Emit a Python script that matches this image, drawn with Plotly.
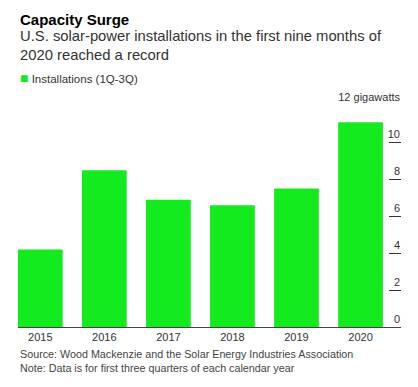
import plotly.graph_objects as go

years = ["2015", "2016", "2017", "2018", "2019", "2020"]
installations = [4.2, 8.5, 6.9, 6.6, 7.5, 11.1]
y_tickvals = [0, 2, 4, 6, 8, 10, 12]
y_ticktext = ["0", "2", "4", "6", "8", "10", "12 gigawatts"]

GREEN = "#14eb1f"
FONT = "Liberation Sans, Arial, sans-serif"
# page has an 8px body margin, so the figure is sized/offset to compensate
OFF = 8
W, H = 418 - OFF, 387 - OFF
ML, MR, MT, MB = 18 - OFF, 17, 105 - OFF, 60
plot_h = H - MT - MB


def py(page_y):
    return (H - MB + OFF - page_y) / plot_h


fig = go.Figure()
fig.add_trace(go.Bar(
    x=years, y=installations, marker=dict(color=GREEN, line=dict(width=0)),
    name="Installations (1Q-3Q)", showlegend=False, hoverinfo="x+y",
))

fig.update_layout(
    width=W, height=H,
    margin=dict(l=ML, r=MR, t=MT, b=MB, pad=0),
    paper_bgcolor="white", plot_bgcolor="white",
    font=dict(family=FONT, color="#333333", size=11),
    bargap=0.302,
    xaxis=dict(
        type="category", range=[-0.348, 5.632], showgrid=False, zeroline=False,
        showline=True, linecolor="#444444", linewidth=1, ticks="",
        tickfont=dict(size=11, color="#333333"),
    ),
    yaxis=dict(
        range=[0, 12.03], side="right", showgrid=False, zeroline=False, showline=False,
        tickvals=y_tickvals, ticktext=y_ticktext,
        ticks="inside", ticklen=12, tickcolor="#333333", tickwidth=1.2,
        ticklabelposition="inside top", ticklabeloverflow="allow",
        ticklabelstandoff=-2,
        tickfont=dict(size=11, color="#333333"),
    ),
    annotations=[
        dict(text="<b>Capacity Surge</b>", xref="paper", yref="paper", x=0, y=py(19.5),
             xanchor="left", yanchor="middle", showarrow=False,
             font=dict(size=15, color="#000000", family=FONT)),
        dict(text="U.S. solar-power installations in the first nine months of<br>"
                  "2020 reached a record",
             xref="paper", yref="paper", x=0, y=py(45.5), xanchor="left", yanchor="middle",
             align="left", showarrow=False,
             font=dict(size=14.8, color="#333333", family=FONT)),
        dict(text=f'<span style="color:{GREEN};font-size:14px">■</span> Installations (1Q-3Q)',
             xref="paper", yref="paper", x=0, y=py(78.3), xanchor="left", yanchor="middle",
             showarrow=False, font=dict(size=11.5, color="#333333", family=FONT)),
        dict(text="Source: Wood Mackenzie and the Solar Energy Industries Association<br>"
                  "Note: Data is for first three quarters of each calendar year",
             xref="paper", yref="paper", x=0, y=py(361), xanchor="left", yanchor="middle",
             align="left", showarrow=False,
             font=dict(size=10.75, color="#444444", family=FONT)),
    ],
)

fig.write_html("out.html")
